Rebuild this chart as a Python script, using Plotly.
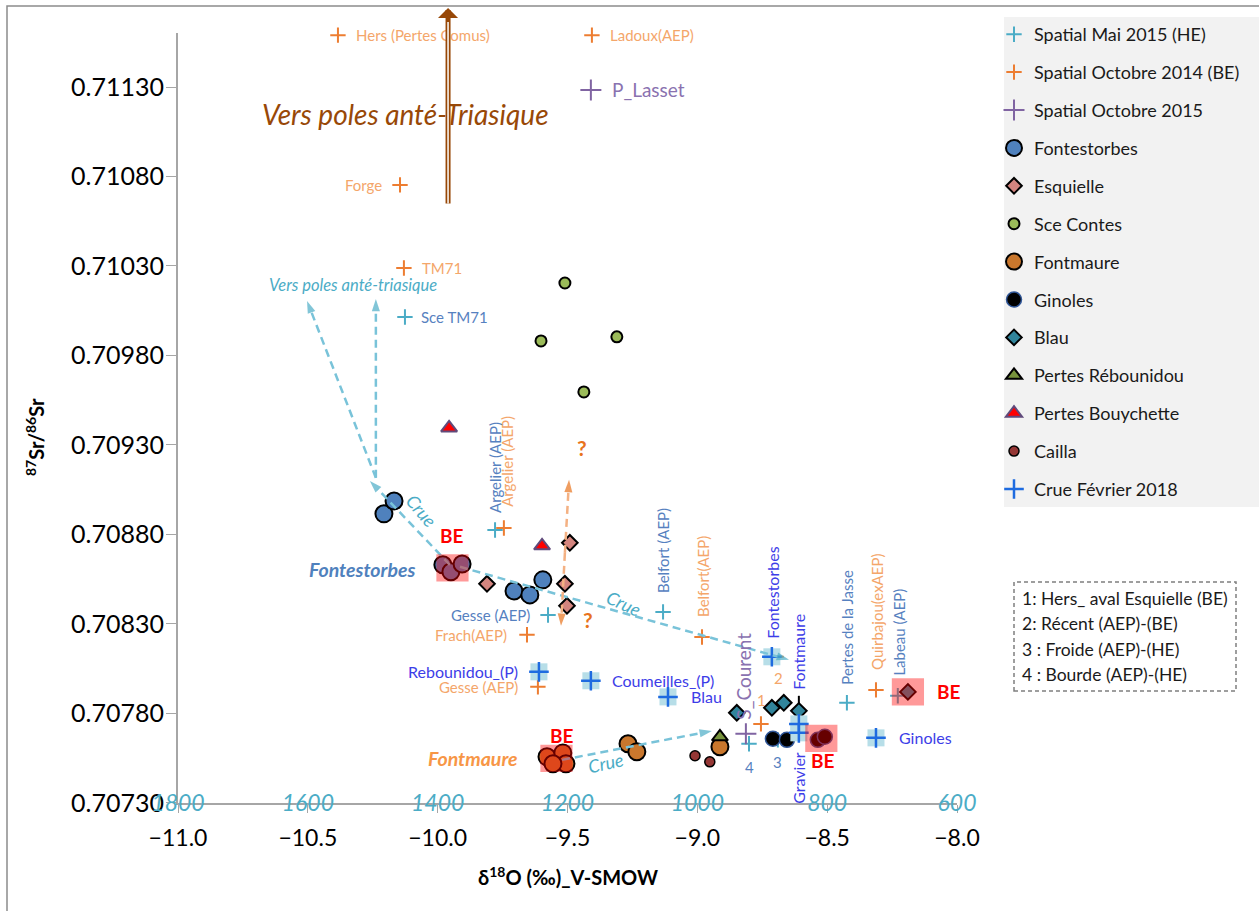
import plotly.graph_objects as go

# ---------------- data ----------------
# Spatial campaigns (labelled points)
mai2015_names = ["Sce TM71", "Argelier (AEP)", "Gesse (AEP)", "Belfort (AEP)",
                 "Pertes de la Jasse", "Labeau (AEP)", "3", "4"]
mai2015_d18o = [-10.126, -9.779, -9.575, -9.132, -8.424, -8.228, -8.690, -8.801]
mai2015_sr = [0.710015, 0.708825, 0.708350, 0.708367, 0.707859, 0.707898, 0.707652, 0.707630]

oct2014_names = ["Hers (Pertes Comus)", "Ladoux(AEP)", "Forge", "TM71", "Argelier (AEP)",
                 "Frach(AEP)", "Belfort(AEP)", "Gesse (AEP)", "Quirbajou(exAEP)", "1", "2"]
oct2014_d18o = [-10.384, -9.406, -10.145, -10.130, -9.745, -9.656, -8.982, -9.614, -8.312, -8.755, -8.697]
oct2014_sr = [0.711590, 0.711590, 0.710753, 0.710289, 0.708836, 0.708239, 0.708227, 0.707948,
              0.707931, 0.707741, 0.708116]

oct2015_names = ["P_Lasset", "S_Courent"]
oct2015_d18o = [-9.410, -8.813]
oct2015_sr = [0.711284, 0.707686]

# Springs and sinks
fontestorbes_d18o = [-10.207, -10.168, -9.706, -9.645, -9.595, -9.980, -9.949, -9.906]
fontestorbes_sr = [0.708915, 0.708987, 0.708484, 0.708462, 0.708546, 0.708630, 0.708591, 0.708635]

esquielle_d18o = [-9.810, -9.491, -9.510, -9.502]
esquielle_sr = [0.708524, 0.708753, 0.708524, 0.708401]

contes_d18o = [-9.510, -9.602, -9.310, -9.437]
contes_sr = [0.710205, 0.709881, 0.709904, 0.709596]

fontmaure_d18o = [-9.267, -9.233, -8.913, -9.579, -9.518, -9.506, -9.556]
fontmaure_sr = [0.707630, 0.707585, 0.707613, 0.707557, 0.707579, 0.707518, 0.707518]

ginoles_d18o = [-8.709, -8.655, -8.536, -8.509]
ginoles_sr = [0.707658, 0.707652, 0.707652, 0.707669]

blau_d18o = [-8.848, -8.713, -8.667, -8.609, -8.189]
blau_sr = [0.707803, 0.707831, 0.707859, 0.707814, 0.707920]
blau_sr_err = [0, 0, 0, 0.000084, 0]

rebounidou_d18o = [-8.913]
rebounidou_sr = [0.707669]

bouychette_d18o = [-9.956, -9.598]
bouychette_sr = [0.709395, 0.708736]

cailla_d18o = [-9.009, -8.952]
cailla_sr = [0.707563, 0.707529]

crue2018_names = ["Rebounidou_(P)", "Coumeilles_(P)", "Blau", "Fontestorbes",
                  "Fontmaure", "Gravier", "Ginoles"]
crue2018_d18o = [-9.610, -9.410, -9.113, -8.713, -8.609, -8.609, -8.312]
crue2018_sr = [0.708032, 0.707982, 0.707892, 0.708116, 0.707741, 0.707691, 0.707663]

# low-water (BE) samples highlighted per series: (x list, y list, indices)
be_groups = [
    (fontestorbes_d18o, fontestorbes_sr, [5, 6, 7]),
    (fontmaure_d18o, fontmaure_sr, [3, 4, 5, 6]),
    (ginoles_d18o, ginoles_sr, [2, 3]),
    (blau_d18o, blau_sr, [4]),
]

y_ticks = [0.70730, 0.70780, 0.70830, 0.70880, 0.70930, 0.70980, 0.71030, 0.71080, 0.71130]
altitude_ticks = [1800, 1600, 1400, 1200, 1000, 800, 600]

notes = ["1: Hers_ aval Esquielle (BE)", "2: Récent (AEP)-(BE)",
         "3 : Froide (AEP)-(HE)", "4 : Bourde (AEP)-(HE)"]

# ---------------- styling ----------------
FONT = "Lato"
TEAL = "#4bacc6"
STEEL = "#5681c0"
LORANGE = "#f4a66a"
CRUE_TXT = "#3d3de8"

# label placement: name -> (xanchor, xshift, yshift, angle)
mai2015_lab = {
    "Sce TM71": ("left", 14, 0, 0), "Argelier (AEP)": ("center", 0, 62, -90),
    "Gesse (AEP)": ("right", -16, 0, 0), "Belfort (AEP)": ("center", 0, 61, -90),
    "Pertes de la Jasse": ("center", 0, 76, -90), "Labeau (AEP)": ("center", 1, 64, -90),
    "3": ("center", 0, -22, 0), "4": ("center", 0, -23, 0),
}
oct2014_lab = {
    "Hers (Pertes Comus)": ("left", 16, 0, 0), "Ladoux(AEP)": ("left", 16, 0, 0),
    "Forge": ("right", -16, 0, 0), "TM71": ("left", 16, 0, 0),
    "Argelier (AEP)": ("center", 3, 67, -90), "Frach(AEP)": ("right", -18, 0, 0),
    "Belfort(AEP)": ("center", 1, 60, -90), "Gesse (AEP)": ("right", -18, 0, 0),
    "Quirbajou(exAEP)": ("center", 1, 78, -90), "1": ("center", 1, 24, 0),
    "2": ("center", 2, -21, 0),
}
oct2015_lab = {"P_Lasset": ("left", 19, 0, 0), "S_Courent": ("center", -2, 58, -90)}
crue2018_lab = {
    "Rebounidou_(P)": ("right", -19, 0, 0), "Coumeilles_(P)": ("left", 19, 0, 0),
    "Blau": ("left", 21, 0, 0), "Fontestorbes": ("center", 1, 64, -90),
    "Fontmaure": ("center", 0, 72, -90), "Gravier": ("center", 0, -45, -90),
    "Ginoles": ("left", 21, 0, 0),
}

fig = go.Figure()
group_id = [0]


def add_series(name, x, y, symbol, size, fill, line_color="black", line_width=2,
               showlegend=True, group=None, **kw):
    if group is None:
        group_id[0] += 1
        group = "g%02d" % group_id[0]
    marker = dict(symbol=symbol, size=size, color=fill,
                  line=dict(color=line_color, width=line_width))
    fig.add_trace(go.Scatter(x=x, y=y, mode="markers", name=name, marker=marker,
                             showlegend=showlegend, legendgroup=group,
                             cliponaxis=False, **kw))
    return group


add_series("Spatial Mai 2015 (HE)", mai2015_d18o, mai2015_sr, "cross-thin", 11, TEAL, TEAL, 2)
add_series("Spatial Octobre 2014 (BE)", oct2014_d18o, oct2014_sr, "cross-thin", 11, "#ed7d31", "#ed7d31", 2)
add_series("Spatial Octobre 2015", oct2015_d18o, oct2015_sr, "cross-thin", 15, "#8064a2", "#8064a2", 2)
add_series("Fontestorbes", fontestorbes_d18o, fontestorbes_sr, "circle", 17, "#4f81bd")
add_series("Esquielle", esquielle_d18o, esquielle_sr, "diamond", 12, "#d4857f")
add_series("Sce Contes", contes_d18o, contes_sr, "circle", 11, "#9bbb59")
add_series("Fontmaure", fontmaure_d18o, fontmaure_sr, "circle", 17, "#c9772d")
add_series("Ginoles", ginoles_d18o, ginoles_sr, "circle", 15, "black", "#2f5597", 1.5)
add_series("Blau", blau_d18o, blau_sr, "diamond", 12, "#31859c",
           error_y=dict(type="data", array=blau_sr_err, symmetric=True,
                        color="black", thickness=2, width=0))
add_series("Pertes Rébounidou", rebounidou_d18o, rebounidou_sr, "triangle-up", 14, "#77933c")
add_series("Pertes Bouychette", bouychette_d18o, bouychette_sr, "triangle-up", 14, "#ff0000", "#604a7b", 2)
add_series("Cailla", cailla_d18o, cailla_sr, "circle", 10, "#953735", "black", 1.5)
g = add_series("Crue Février 2018", crue2018_d18o, crue2018_sr, "square", 17, "#b7dee8",
               "#b7dee8", 0, showlegend=False)
add_series("Crue Février 2018", crue2018_d18o, crue2018_sr, "cross-thin", 14, "#1e6be0",
           "#1e6be0", 2.5, group=g)

# altitude axis trace (invisible) to activate xaxis2
fig.add_trace(go.Scatter(x=[altitude_ticks[0], altitude_ticks[-1]], y=[y_ticks[0], y_ticks[0]],
                         xaxis="x2", mode="markers", marker=dict(size=0, opacity=0),
                         showlegend=False, legendgroup="zz", hoverinfo="skip"))


# ---------- dashed trend arrows ----------
def arrow(x0, y0, x1, y1, color, head, dash="8px,5px", width=2.5, size=13):
    fig.add_trace(go.Scatter(
        x=[x0, x1], y=[y0, y1], mode="lines+markers", showlegend=False, hoverinfo="skip",
        legendgroup="zz", line=dict(color=color, width=width, dash=dash),
        marker=dict(symbol=["circle", "arrow"], size=[0, size], color=head,
                    angleref="previous", line=dict(width=0))))


ARROW_LINE = "#79c3d9"
arrow(-9.953, 0.708630, -10.261, 0.709099, ARROW_LINE, TEAL)
arrow(-10.238, 0.709116, -10.238, 0.710116, ARROW_LINE, TEAL)
arrow(-10.238, 0.709116, -10.503, 0.710105, ARROW_LINE, TEAL)
arrow(-9.914, 0.708619, -8.647, 0.708099, ARROW_LINE, TEAL)
arrow(-9.521, 0.707540, -8.944, 0.707702, ARROW_LINE, TEAL)
arrow(-9.510, 0.708697, -9.494, 0.709105, "#f4b183", "#e8731c")
arrow(-9.510, 0.708697, -9.525, 0.708289, "#f4b183", "#e8731c")

annotations = []


def point_labels(names, xs, ys, placement, color, size=15):
    for n, x, y in zip(names, xs, ys):
        xa, xs_, ys_, ang = placement[n]
        annotations.append(dict(
            x=x, y=y, xref="x", yref="y", text=n, showarrow=False,
            xanchor=xa, yanchor="middle", xshift=xs_, yshift=ys_, textangle=ang,
            font=dict(family=FONT, size=size, color=color)))


point_labels(mai2015_names, mai2015_d18o, mai2015_sr, mai2015_lab, STEEL)
point_labels(oct2014_names, oct2014_d18o, oct2014_sr, oct2014_lab, LORANGE)
point_labels(oct2015_names, oct2015_d18o, oct2015_sr, oct2015_lab, "#8a72b0", 19)
point_labels(crue2018_names, crue2018_d18o, crue2018_sr, crue2018_lab, CRUE_TXT, 16)

# ---------- BE highlight boxes ----------
shapes = []
HALF_W, HALF_H = 0.062, 0.000076
be_shift = [(0, 32), (6, 23), (2, -22), (41, 0)]
for (xs, ys, idx), (sx, sy) in zip(be_groups, be_shift):
    bx = [xs[i] for i in idx]
    by = [ys[i] for i in idx]
    cx = (min(bx) + max(bx)) / 2
    cy = (min(by) + max(by)) / 2
    shapes.append(dict(type="rect", xref="x", yref="y", layer="above",
                       x0=cx - HALF_W, x1=cx + HALF_W, y0=cy - HALF_H, y1=cy + HALF_H,
                       fillcolor="rgba(255,0,0,0.4)", line=dict(width=0)))
    annotations.append(dict(x=cx, y=cy, xref="x", yref="y", text="<b>BE</b>", showarrow=False,
                            xshift=sx, yshift=sy, font=dict(family=FONT, size=19, color="#ff0000")))


def ptext(px, py, text, size, color, angle=0, xanchor="center", **kw):
    annotations.append(dict(x=(px - 178) / 779, y=(803 - py) / 770, xref="paper", yref="paper",
                            text=text, showarrow=False, textangle=angle, xanchor=xanchor,
                            yanchor="middle",
                            font=dict(family=FONT, size=size, color=color), **kw))


ptext(405, 114, "<i>Vers poles anté-Triasique</i>", 28, "#984807")
ptext(353, 285, "<i>Vers poles anté-triasique</i>", 16.5, TEAL)
ptext(421, 510, "<i>Crue</i>", 18, TEAL, 50)
ptext(623, 603, "<i>Crue</i>", 18, TEAL, 25)
ptext(605, 763, "<i>Crue</i>", 18, TEAL, -12)
ptext(582, 447, "<b>?</b>", 21, "#e8731c")
ptext(588, 619, "<b>?</b>", 21, "#e8731c")
ptext(362, 569, "<b><i>Fontestorbes</i></b>", 19.5, "#4f81bd")
ptext(473, 758, "<b><i>Fontmaure</i></b>", 19.5, "#f79646")

# brown double-line arrow towards pre-Triassic poles
annotations.append(dict(x=-9.960, y=(803 - 8) / 770, xref="x", yref="paper", ax=0, ay=197,
                        axref="pixel", ayref="pixel", showarrow=True, text="", arrowhead=1,
                        arrowsize=0.67, arrowwidth=5, arrowcolor="#984807"))
annotations.append(dict(x=-9.960, y=(803 - 22) / 770, xref="x", yref="paper", ax=0, ay=183,
                        axref="pixel", ayref="pixel", showarrow=True, text="", arrowhead=0,
                        arrowwidth=1.5, arrowcolor="white"))

# notes box
shapes.append(dict(type="rect", xref="paper", yref="paper", x0=(1014 - 178) / 779, x1=(1236 - 178) / 779,
                   y0=(803 - 691) / 770, y1=(803 - 582) / 770, line=dict(color="#7f7f7f", width=1.5, dash="4px,3px")))
for i, t in enumerate(notes):
    ptext(1020, 598 + 25.5 * i, t, 17.5, "#1a1a1a", xanchor="left")

# legend background and outer frame
shapes.append(dict(type="rect", xref="paper", yref="paper", layer="below",
                   x0=(1004 - 178) / 779, x1=(1262 - 178) / 779, y0=(803 - 507) / 770, y1=(803 - 17) / 770,
                   fillcolor="#f2f2f2", line=dict(width=0)))
shapes.append(dict(type="rect", xref="paper", yref="paper", layer="below",
                   x0=(7 - 178) / 779, x1=(1264 - 178) / 779, y0=(803 - 918) / 770, y1=(803 - 6) / 770,
                   line=dict(color="#8c8c8c", width=1.5)))

# axis titles
ptext(35, 437, "<b><sup>87</sup>Sr/<sup>86</sup>Sr</b>", 20, "black", -90)
ptext(568, 876, "<b>δ<sup>18</sup>O (‰)_V-SMOW</b>", 20, "black")

fig.update_layout(
    width=1259, height=911,
    margin=dict(l=178, r=302, t=33, b=108),
    paper_bgcolor="white", plot_bgcolor="white",
    font=dict(family=FONT, color="black"),
    xaxis=dict(range=[-11, -8], dtick=0.5, tickformat=".1f", showgrid=False, zeroline=False,
               showline=True, linecolor="#a6a6a6", linewidth=2, ticks="outside", ticklen=8,
               tickcolor="#a6a6a6", tickfont=dict(family=FONT, size=23), ticklabelstandoff=5),
    xaxis2=dict(range=[1800, 600], tickvals=altitude_ticks, overlaying="x", anchor="y", side="bottom",
                showgrid=False, zeroline=False, showline=False, ticks="",
                ticklabelposition="outside", ticklabelstandoff=-16,
                tickfont=dict(family=FONT, size=23, color=TEAL, style="italic")),
    yaxis=dict(range=[0.707299, 0.711602], tickvals=y_ticks, tickformat=".5f", showgrid=False,
               zeroline=False, showline=True, linecolor="#a6a6a6", linewidth=2, ticks="outside",
               ticklen=10, tickcolor="#a6a6a6", tickfont=dict(family=FONT, size=25),
               ticklabelstandoff=-3),
    legend=dict(x=(994 - 178) / 779, y=(803 - 16) / 770, xanchor="left", yanchor="top",
                bgcolor="rgba(0,0,0,0)", traceorder="grouped", tracegroupgap=11.5,
                maxheight=880, font=dict(family=FONT, size=18, color="#1a1a1a")),
    shapes=shapes,
    annotations=annotations,
)

fig.write_html("out.html")
